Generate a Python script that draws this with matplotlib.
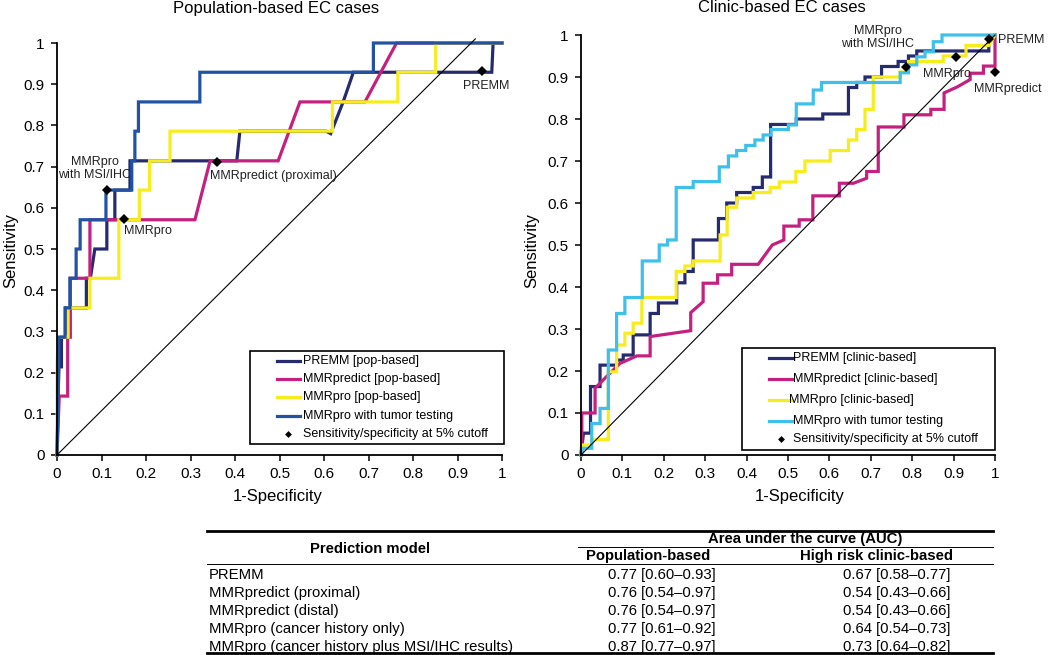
import matplotlib
matplotlib.use("Agg")
import matplotlib.pyplot as plt
from matplotlib import font_manager
from matplotlib.patches import Rectangle
from matplotlib.lines import Line2D

# ---------------- data: population-based ROC curves ----------------
pop_premm_x = [0, 0.004, 0.010, 0.010, 0.020, 0.020, 0.066, 0.066, 0.075, 0.085, 0.112, 0.112, 0.130,
               0.130, 0.164, 0.164, 0.404, 0.411, 0.605, 0.615, 0.643, 0.666, 0.977, 0.980, 1.0]
pop_premm_y = [0, 0.214, 0.214, 0.286, 0.286, 0.357, 0.357, 0.429, 0.429, 0.500, 0.500, 0.571, 0.571,
               0.643, 0.643, 0.714, 0.714, 0.786, 0.786, 0.780, 0.857, 0.929, 0.929, 1.0, 1.0]

pop_mmrpredict_x = [0, 0.005, 0.024, 0.024, 0.030, 0.030, 0.074, 0.074, 0.310, 0.344, 0.497, 0.546,
                    0.692, 0.763, 1.0]
pop_mmrpredict_y = [0, 0.143, 0.143, 0.286, 0.286, 0.429, 0.429, 0.571, 0.571, 0.714, 0.714, 0.857,
                    0.857, 1.0, 1.0]

pop_mmrpro_x = [0, 0.0, 0.003, 0.025, 0.025, 0.074, 0.074, 0.139, 0.139, 0.185, 0.185, 0.208, 0.208,
                0.254, 0.254, 0.619, 0.619, 0.766, 0.766, 0.851, 0.851, 1.0]
pop_mmrpro_y = [0, 0.22, 0.286, 0.286, 0.357, 0.357, 0.429, 0.429, 0.571, 0.571, 0.643, 0.643, 0.714,
                0.714, 0.786, 0.786, 0.857, 0.857, 0.929, 0.929, 1.0, 1.0]

pop_tumor_x = [0, 0.004, 0.004, 0.018, 0.018, 0.029, 0.029, 0.043, 0.043, 0.052, 0.052, 0.110, 0.110,
               0.168, 0.168, 0.175, 0.175, 0.183, 0.183, 0.321, 0.321, 0.711, 0.711, 1.0]
pop_tumor_y = [0, 0.214, 0.286, 0.286, 0.357, 0.357, 0.429, 0.429, 0.500, 0.500, 0.571, 0.571, 0.643,
               0.643, 0.714, 0.714, 0.786, 0.786, 0.857, 0.857, 0.929, 0.929, 1.0, 1.0]

pop_diag_x = [0, 0.94]
pop_diag_y = [0, 1.01]

# 5% cutoff points (x, y) and their labels
pop_cut_x = [0.954, 0.360, 0.151, 0.112]
pop_cut_y = [0.933, 0.712, 0.572, 0.642]
pop_cut_labels = ["PREMM", "MMRpredict (proximal)", "MMRpro", "MMRpro\nwith MSI/IHC"]

# ---------------- data: clinic-based ROC curves ----------------
cl_premm_x = [0, 0.006, 0.023, 0.023, 0.046, 0.046, 0.086, 0.086, 0.102, 0.102, 0.126, 0.126, 0.167,
              0.167, 0.187, 0.187, 0.231, 0.231, 0.251, 0.251, 0.271, 0.271, 0.332, 0.332, 0.352, 0.352,
              0.376, 0.376, 0.416, 0.416, 0.438, 0.438, 0.458, 0.458, 0.520, 0.520, 0.584, 0.584, 0.646,
              0.646, 0.666, 0.666, 0.686, 0.686, 0.726, 0.726, 0.766, 0.766, 0.791, 0.791, 0.811, 0.811,
              0.985, 0.985, 1.0]
cl_premm_y = [0, 0.052, 0.052, 0.163, 0.163, 0.214, 0.214, 0.226, 0.226, 0.238, 0.238, 0.286, 0.286,
              0.337, 0.337, 0.362, 0.362, 0.410, 0.410, 0.437, 0.437, 0.512, 0.512, 0.563, 0.563, 0.600,
              0.600, 0.625, 0.625, 0.637, 0.637, 0.662, 0.662, 0.787, 0.787, 0.800, 0.800, 0.812, 0.812,
              0.875, 0.875, 0.887, 0.887, 0.900, 0.900, 0.925, 0.925, 0.937, 0.937, 0.950, 0.950, 0.962,
              0.962, 0.990, 1.0]

cl_mmrpredict_x = [0, 0.002, 0.002, 0.034, 0.034, 0.060, 0.094, 0.135, 0.167, 0.167, 0.265, 0.265,
                   0.295, 0.295, 0.330, 0.330, 0.364, 0.364, 0.428, 0.462, 0.490, 0.490, 0.527, 0.527,
                   0.560, 0.560, 0.624, 0.624, 0.658, 0.690, 0.690, 0.718, 0.718, 0.780, 0.780, 0.845,
                   0.845, 0.877, 0.877, 0.910, 0.940, 0.940, 0.972, 0.972, 1.0, 1.0]
cl_mmrpredict_y = [0, 0.030, 0.100, 0.100, 0.159, 0.185, 0.218, 0.236, 0.236, 0.282, 0.296, 0.339,
                   0.365, 0.409, 0.409, 0.429, 0.429, 0.454, 0.454, 0.500, 0.512, 0.545, 0.545, 0.560,
                   0.560, 0.617, 0.617, 0.647, 0.647, 0.659, 0.675, 0.675, 0.781, 0.781, 0.810, 0.810,
                   0.823, 0.823, 0.862, 0.877, 0.894, 0.909, 0.909, 0.926, 0.926, 1.0]

cl_mmrpro_x = [0, 0.006, 0.026, 0.026, 0.066, 0.066, 0.086, 0.086, 0.106, 0.106, 0.126, 0.126, 0.147,
               0.147, 0.230, 0.230, 0.251, 0.251, 0.271, 0.271, 0.336, 0.336, 0.353, 0.353, 0.376, 0.376,
               0.416, 0.416, 0.457, 0.457, 0.479, 0.479, 0.519, 0.519, 0.541, 0.541, 0.602, 0.602, 0.646,
               0.646, 0.666, 0.666, 0.686, 0.686, 0.706, 0.706, 0.771, 0.771, 0.791, 0.791, 0.875, 0.875,
               0.930, 0.930, 0.985, 1.0]
cl_mmrpro_y = [0, 0.024, 0.024, 0.037, 0.037, 0.198, 0.198, 0.262, 0.262, 0.290, 0.290, 0.314, 0.314,
               0.375, 0.375, 0.437, 0.437, 0.450, 0.450, 0.462, 0.462, 0.524, 0.524, 0.590, 0.590, 0.612,
               0.612, 0.625, 0.625, 0.637, 0.637, 0.650, 0.650, 0.675, 0.675, 0.700, 0.700, 0.725, 0.725,
               0.750, 0.750, 0.775, 0.775, 0.823, 0.823, 0.900, 0.900, 0.912, 0.912, 0.937, 0.937, 0.950,
               0.950, 0.975, 0.975, 1.0]

cl_tumor_x = [0, 0.006, 0.026, 0.026, 0.046, 0.046, 0.066, 0.066, 0.086, 0.086, 0.106, 0.106, 0.148,
              0.148, 0.189, 0.189, 0.209, 0.209, 0.230, 0.230, 0.271, 0.271, 0.334, 0.334, 0.356, 0.356,
              0.376, 0.376, 0.398, 0.398, 0.420, 0.420, 0.440, 0.440, 0.459, 0.459, 0.501, 0.501, 0.520,
              0.520, 0.561, 0.561, 0.581, 0.581, 0.771, 0.771, 0.791, 0.791, 0.811, 0.811, 0.831, 0.831,
              0.851, 0.851, 0.872, 0.872, 1.0]
cl_tumor_y = [0, 0.016, 0.016, 0.075, 0.075, 0.111, 0.111, 0.250, 0.250, 0.337, 0.337, 0.375, 0.375,
              0.462, 0.462, 0.500, 0.500, 0.512, 0.512, 0.637, 0.637, 0.651, 0.651, 0.686, 0.686, 0.712,
              0.712, 0.725, 0.725, 0.737, 0.737, 0.750, 0.750, 0.762, 0.762, 0.775, 0.775, 0.786, 0.786,
              0.836, 0.836, 0.869, 0.869, 0.887, 0.887, 0.910, 0.910, 0.929, 0.929, 0.948, 0.948, 0.960,
              0.960, 0.984, 0.984, 1.0, 1.0]

cl_diag_x = [0, 1.0]
cl_diag_y = [0, 1.0]

cl_cut_x = [0.985, 1.0, 0.905, 0.785]
cl_cut_y = [0.990, 0.912, 0.948, 0.925]
cl_cut_labels = ["PREMM", "MMRpredict", "MMRpro", "MMRpro\nwith MSI/IHC"]

pop_legend = ["PREMM [pop-based]", "MMRpredict [pop-based]", "MMRpro [pop-based]",
              "MMRpro with tumor testing", "Sensitivity/specificity at 5% cutoff"]
cl_legend = ["PREMM [clinic-based]", "MMRpredict [clinic-based]", "MMRpro [clinic-based]",
             "MMRpro with tumor testing", "Sensitivity/specificity at 5% cutoff"]

ticks = [0, 0.1, 0.2, 0.3, 0.4, 0.5, 0.6, 0.7, 0.8, 0.9, 1.0]
tick_labels = ["0", "0.1", "0.2", "0.3", "0.4", "0.5", "0.6", "0.7", "0.8", "0.9", "1"]

# ---------------- data: AUC table ----------------
table_models = ["PREMM", "MMRpredict (proximal)", "MMRpredict (distal)",
                "MMRpro (cancer history only)", "MMRpro (cancer history plus MSI/IHC results)"]
table_pop = ["0.77 [0.60\u20130.93]", "0.76 [0.54\u20130.97]", "0.76 [0.54\u20130.97]",
             "0.77 [0.61\u20130.92]", "0.87 [0.77\u20130.97]"]
table_clinic = ["0.67 [0.58\u20130.77]", "0.54 [0.43\u20130.66]", "0.54 [0.43\u20130.66]",
                "0.64 [0.54\u20130.73]", "0.73 [0.64\u20130.82]"]

NAVY = "#262b70"
MAGENTA = "#c3207f"
YELLOW = "#f7ec1c"
BLUE = "#2152a3"
CYAN = "#3ec0e9"

plt.rcParams['font.family'] = ['Liberation Sans', 'DejaVu Sans']
names = {f.name for f in font_manager.fontManager.ttflist}
narrow = 'Liberation Sans Narrow' if 'Liberation Sans Narrow' in names else 'Liberation Sans'

W, H = 1050, 655
fig = plt.figure(figsize=(W / 100, H / 100), dpi=100)

ax1 = fig.add_axes([57 / W, 1 - 455 / H, 445 / W, 412 / H])
ax2 = fig.add_axes([581 / W, 1 - 455 / H, 414 / W, 420 / H])

for ax in (ax1, ax2):
    ax.set_xlim(0, 1)
    ax.set_ylim(0, 1)
    ax.spines['top'].set_visible(False)
    ax.spines['right'].set_visible(False)
    ax.spines['left'].set_linewidth(1.3)
    ax.spines['bottom'].set_linewidth(1.3)
    ax.set_xticks(ticks)
    ax.set_yticks(ticks)
    ax.set_xticklabels(tick_labels)
    ax.set_yticklabels(tick_labels)
    ax.tick_params(direction='out', length=4, width=1.1, labelsize=11, pad=5)

# curves
pop_curves = [(pop_premm_x, pop_premm_y, NAVY), (pop_mmrpredict_x, pop_mmrpredict_y, MAGENTA),
              (pop_mmrpro_x, pop_mmrpro_y, YELLOW), (pop_tumor_x, pop_tumor_y, BLUE)]
cl_curves = [(cl_premm_x, cl_premm_y, NAVY), (cl_mmrpredict_x, cl_mmrpredict_y, MAGENTA),
             (cl_mmrpro_x, cl_mmrpro_y, YELLOW), (cl_tumor_x, cl_tumor_y, CYAN)]

for ax, curves in ((ax1, pop_curves), (ax2, cl_curves)):
    for x, y, c in curves:
        ax.plot(x, y, color=c, lw=2.3, solid_joinstyle='miter', clip_on=False)

ax1.plot(pop_diag_x, pop_diag_y, color='black', lw=0.8, clip_on=False, zorder=3)
ax2.plot(cl_diag_x, cl_diag_y, color='black', lw=0.8, clip_on=False, zorder=3)

ax1.plot(pop_cut_x, pop_cut_y, 'D', color='black', ms=5.5, mew=0, clip_on=False, zorder=5)
ax2.plot(cl_cut_x, cl_cut_y, 'D', color='black', ms=5.5, mew=0, clip_on=False, zorder=5)

# point labels
lab = dict(fontsize=9, color='#222222', zorder=6)
ax1.text(0.912, 0.896, pop_cut_labels[0], ha='left', va='center', **lab)
ax1.text(0.344, 0.677, pop_cut_labels[1], ha='left', va='center', **lab)
ax1.text(0.151, 0.544, pop_cut_labels[2], ha='left', va='center', **lab)
ax1.text(0.085, 0.695, pop_cut_labels[3], ha='center', va='center', linespacing=1.1, **lab)

ax2.text(1.007, 0.987, cl_cut_labels[0], ha='left', va='center', clip_on=False, **lab)
ax2.text(0.950, 0.871, cl_cut_labels[1], ha='left', va='center', clip_on=False, **lab)
ax2.text(0.826, 0.907, cl_cut_labels[2], ha='left', va='center', **lab)
ax2.text(0.717, 0.993, cl_cut_labels[3], ha='center', va='center', linespacing=1.1, **lab)


def draw_legend(ax, labels, colors, box, hx, tx, ys):
    x0, x1, y0, y1 = box
    ax.add_patch(Rectangle((x0, y0), x1 - x0, y1 - y0, transform=ax.transAxes, fc='white',
                           ec='black', lw=1.2, clip_on=False, zorder=7))
    for i, (txt, y, t) in enumerate(zip(labels, ys, tx)):
        if i < len(colors):
            ax.add_line(Line2D(hx, [y, y], transform=ax.transAxes, color=colors[i], lw=2.3,
                               clip_on=False, zorder=8))
        else:
            ax.add_line(Line2D([(hx[0] + hx[1]) / 2], [y], transform=ax.transAxes, marker='D',
                               color='black', ms=3.5, mew=0, clip_on=False, zorder=8))
        ax.text(t, y, txt, transform=ax.transAxes, fontsize=9, va='center', ha='left', zorder=9)


draw_legend(ax1, pop_legend, [NAVY, MAGENTA, YELLOW, BLUE], (0.434, 1.004, 0.027, 0.252),
            [0.494, 0.546], [0.552] * 5, [0.229, 0.184, 0.140, 0.095, 0.051])
draw_legend(ax2, cl_legend, [NAVY, MAGENTA, YELLOW, CYAN], (0.390, 1.0, 0.012, 0.2555),
            [0.454, 0.510], [0.512, 0.512, 0.503, 0.512, 0.512], [0.231, 0.181, 0.131, 0.082, 0.038])

# titles and axis labels
fig.text(276 / W, 1 - 9 / H, "Population-based EC cases", ha='center', va='center', fontsize=12)
fig.text(782 / W, 1 - 8 / H, "Clinic-based EC cases", ha='center', va='center', fontsize=12)
fig.text(11 / W, 1 - 250 / H, "Sensitivity", rotation=90, ha='center', va='center', fontsize=12)
fig.text(532 / W, 1 - 250 / H, "Sensitivity", rotation=90, ha='center', va='center', fontsize=12)
fig.text(278 / W, 1 - 497 / H, "1-Specificity", ha='center', va='center', fontsize=12)
fig.text(800 / W, 1 - 497 / H, "1-Specificity", ha='center', va='center', fontsize=12)

# AUC table
def hline(x0, x1, y, lw):
    fig.add_artist(Line2D([x0 / W, x1 / W], [1 - y / H, 1 - y / H], transform=fig.transFigure,
                          color='black', lw=lw))


tfont = dict(family=narrow, fontsize=10.7)
hline(207, 993, 531, 2.0)
hline(578, 993, 547, 0.7)
hline(207, 993, 564, 0.7)
hline(207, 993, 653, 2.0)
fig.text(805 / W, 1 - 539 / H, "Area under the curve (AUC)", ha='center', va='center',
         fontweight='bold', **tfont)
fig.text(370 / W, 1 - 549 / H, "Prediction model", ha='center', va='center', fontweight='bold', **tfont)
fig.text(648 / W, 1 - 556 / H, "Population-based", ha='center', va='center', fontweight='bold', **tfont)
fig.text(876 / W, 1 - 556 / H, "High risk clinic-based", ha='center', va='center', fontweight='bold',
         **tfont)
row_y = [575, 593, 611, 629, 647]
for name, v1, v2, y in zip(table_models, table_pop, table_clinic, row_y):
    fig.text(209 / W, 1 - y / H, name, ha='left', va='center', **tfont)
    fig.text(716 / W, 1 - y / H, v1, ha='right', va='center', **tfont)
    fig.text(950 / W, 1 - y / H, v2, ha='right', va='center', **tfont)

fig.savefig("out.png", dpi=100)
